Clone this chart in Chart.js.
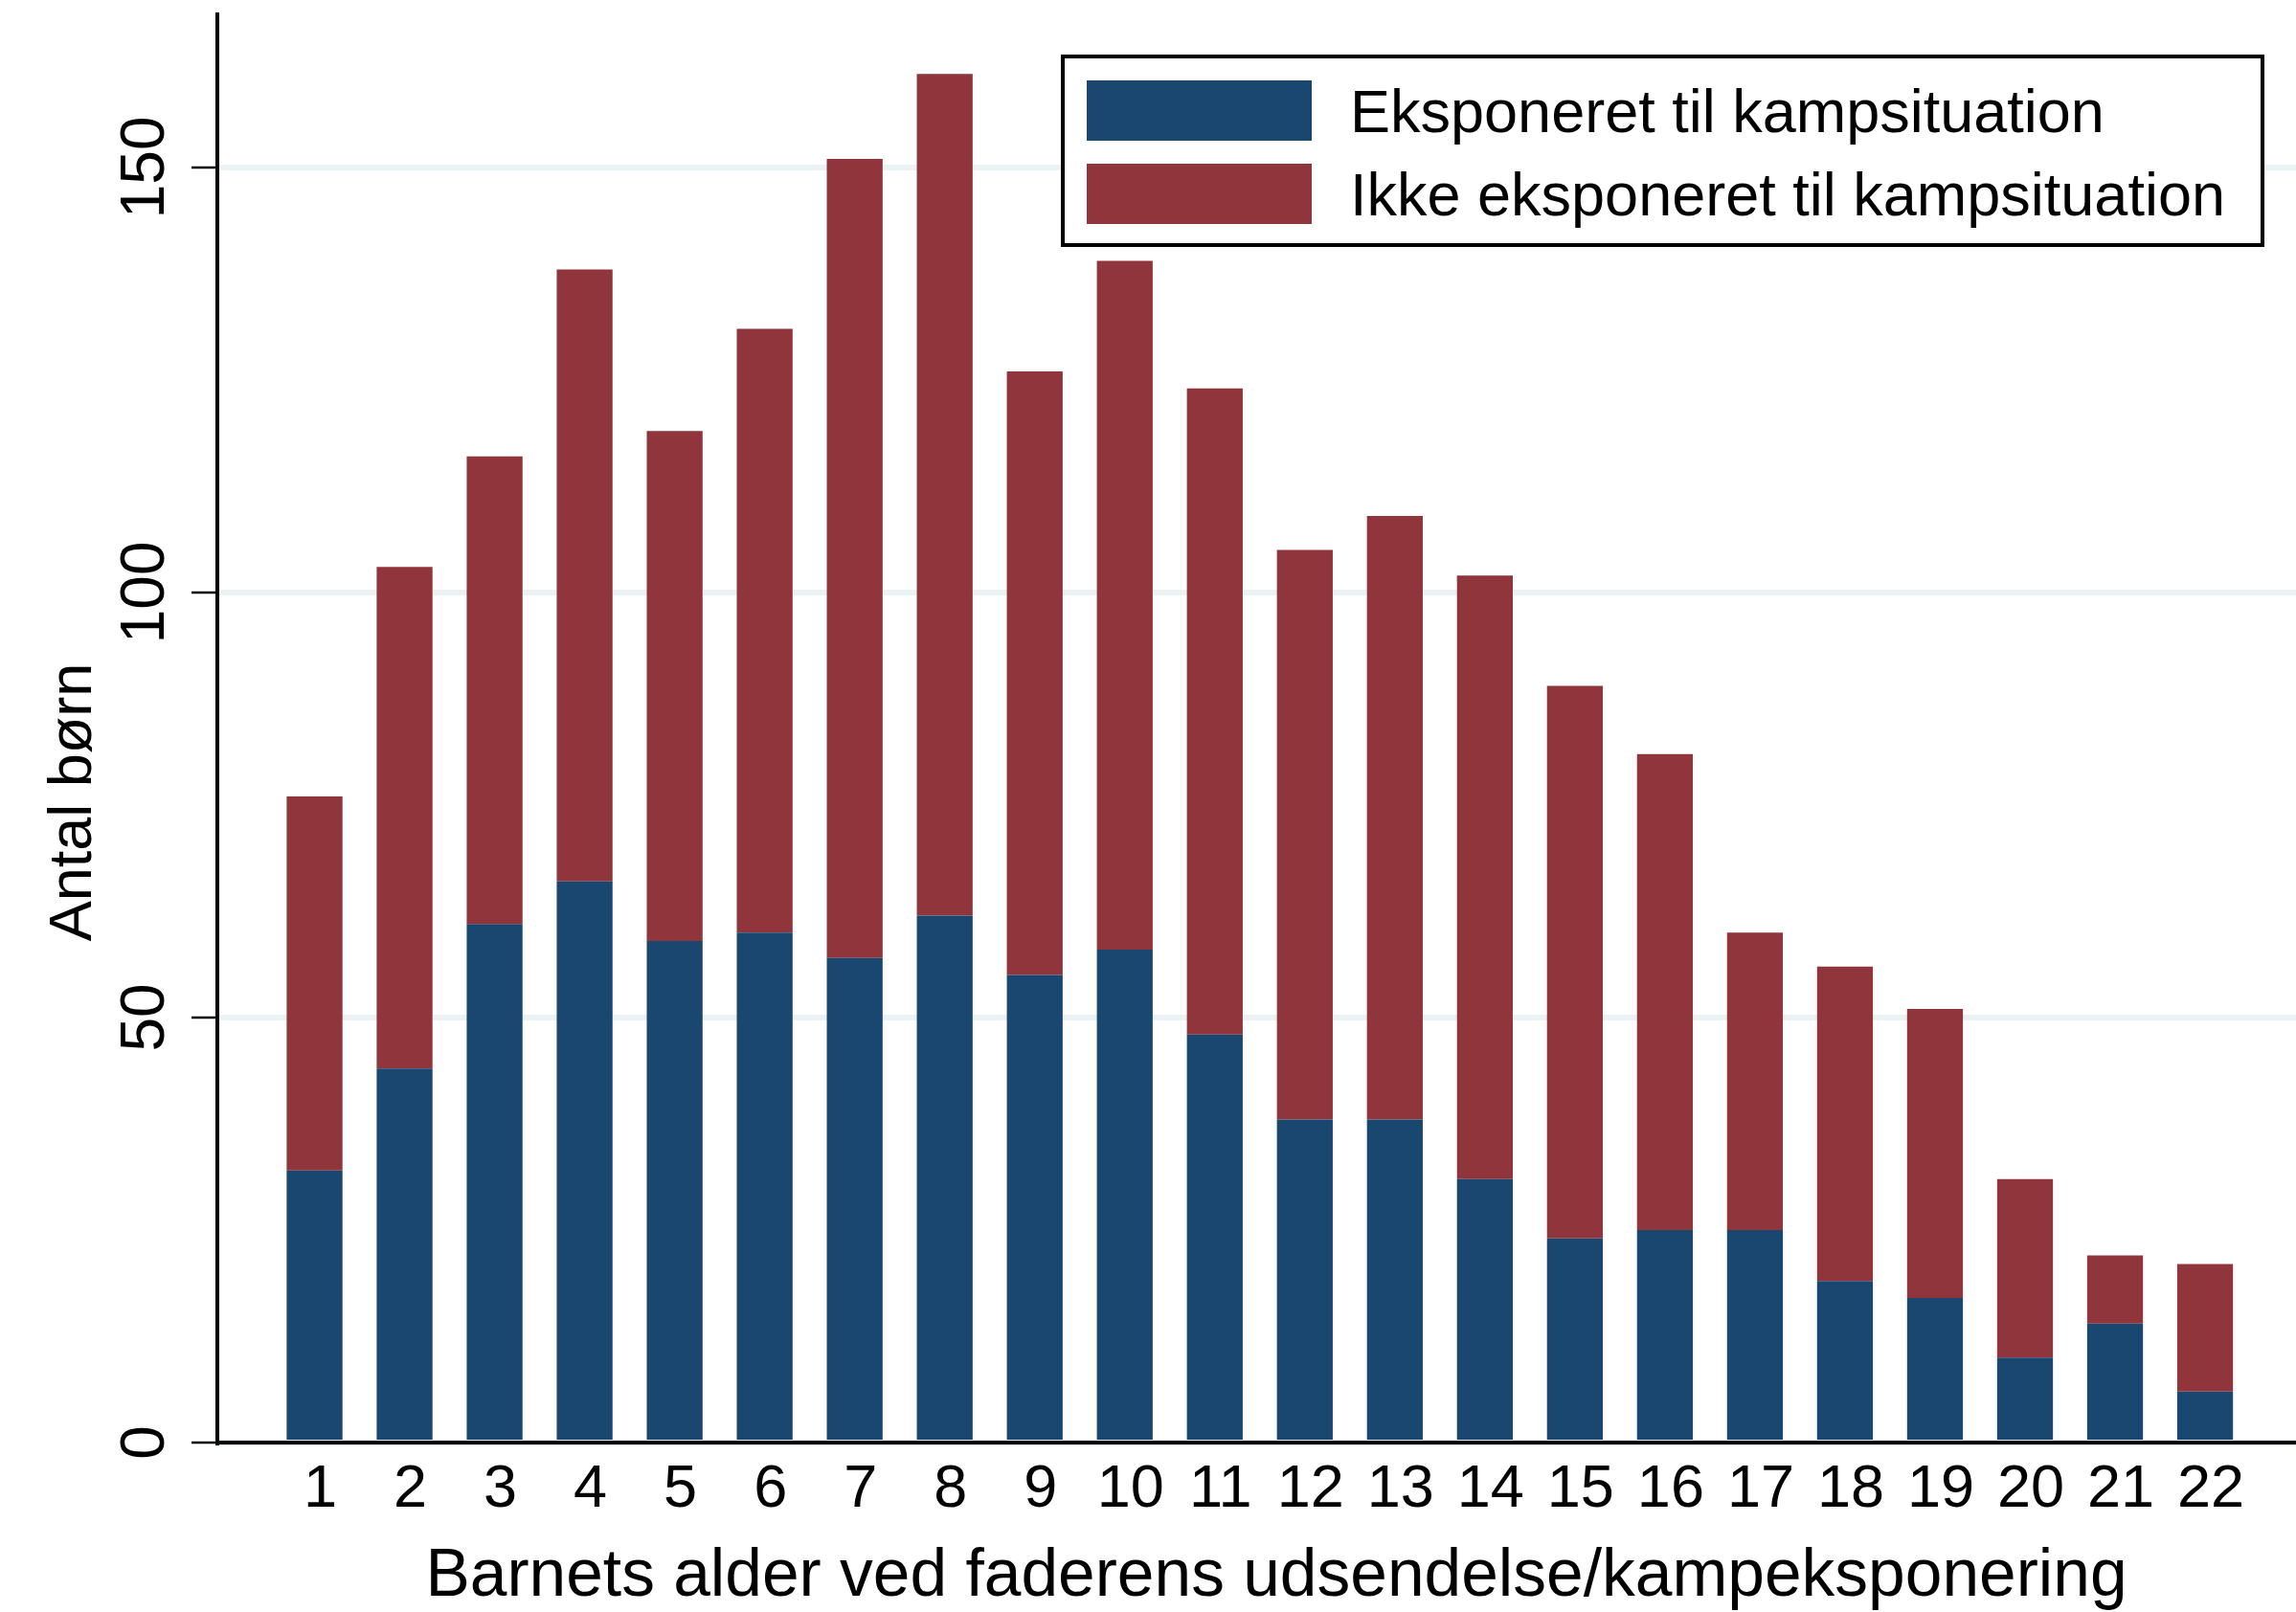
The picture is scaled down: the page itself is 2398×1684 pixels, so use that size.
<!DOCTYPE html>
<html>
<head>
<meta charset="utf-8">
<script src="https://cdn.jsdelivr.net/npm/chart.js@4.4.1/dist/chart.umd.min.js"></script>
<style>
  html, body { margin: 0; padding: 0; background: #fff; }
</style>
</head>
<body>
<canvas id="chart" width="2398" height="1684"></canvas>
<script>
// Barnets alder (år)
const ages = [1, 2, 3, 4, 5, 6, 7, 8, 9, 10, 11, 12, 13, 14, 15, 16, 17, 18, 19, 20, 21, 22]
// antal børn, eksponeret til kampsituation
const exposed = [32, 44, 61, 66, 59, 60, 57, 62, 55, 58, 48, 38, 38, 31, 24, 25, 25, 19, 17, 10, 14, 6]
// antal børn, ikke eksponeret (stakket ovenpå)
const notExposed = [44, 59, 55, 72, 60, 71, 94, 99, 71, 81, 76, 67, 71, 71, 65, 56, 35, 37, 34, 21, 8, 15]
const yTicks = [0, 50, 100, 150]

const seriesLabels = ['Eksponeret til kampsituation', 'Ikke eksponeret til kampsituation']
const seriesColors = ['#1a476f', '#90353b']
const xTitle = 'Barnets alder ved faderens udsendelse/kampeksponering'
const yTitle = 'Antal børn'

const FONT = '"Liberation Sans", Arial, sans-serif'
Chart.defaults.font.family = FONT
Chart.defaults.color = '#000'

// y tick labels, axis titles and the boxed legend, Stata style
const stataText = {
  id: 'stataText',
  afterDraw (chart) {
    const { ctx, scales: { y } } = chart
    ctx.save()
    ctx.fillStyle = '#000'

    // rotated y tick labels
    ctx.font = '64px ' + FONT
    ctx.textAlign = 'center'
    ctx.textBaseline = 'alphabetic'
    y.ticks.forEach(t => {
      ctx.save()
      ctx.translate(171, y.getPixelForValue(t.value))
      ctx.rotate(-Math.PI / 2)
      ctx.fillText(String(t.value), 0, 0)
      ctx.restore()
    })

    // y title
    ctx.font = '63px ' + FONT
    ctx.save()
    ctx.translate(95, 838)
    ctx.rotate(-Math.PI / 2)
    ctx.fillText(yTitle, 0, 0)
    ctx.restore()

    // x title
    ctx.font = '69.5px ' + FONT
    ctx.fillText(xTitle, 1333, 1667)

    // legend
    ctx.fillStyle = '#fff'
    ctx.fillRect(1110, 59, 1253, 197)
    ctx.strokeStyle = '#000'
    ctx.lineWidth = 4
    ctx.strokeRect(1110, 59, 1253, 197)
    ctx.font = '63px ' + FONT
    ctx.textAlign = 'left'
    chart.data.datasets.forEach((ds, i) => {
      const top = 84 + i * 87
      ctx.fillStyle = ds.backgroundColor
      ctx.fillRect(1135, top, 235, 63)
      ctx.fillStyle = '#000'
      ctx.fillText(ds.label, 1410, top + 54)
    })
    ctx.restore()
  }
}

const ctx = document.getElementById('chart').getContext('2d')
new Chart(ctx, {
  type: 'bar',
  data: {
    datasets: [exposed, notExposed].map((vals, i) => ({
      label: seriesLabels[i],
      data: ages.map((a, j) => ({ x: a, y: vals[j] })),
      backgroundColor: seriesColors[i],
      borderWidth: 0,
      barPercentage: 0.62,
      categoryPercentage: 1
    }))
  },
  options: {
    responsive: false,
    animation: false,
    devicePixelRatio: 1,
    layout: { padding: { top: 15, left: 0, right: 0, bottom: 0 } },
    plugins: {
      legend: { display: false },
      tooltip: { enabled: false }
    },
    scales: {
      x: {
        type: 'linear',
        stacked: true,
        offset: false,
        min: -0.08,
        max: 23.01,
        afterBuildTicks: s => { s.ticks = ages.map(v => ({ value: v })) },
        afterFit: s => { s.height = 177 },
        grid: { display: false, drawTicks: false },
        border: { color: '#000', width: 4 },
        ticks: {
          font: { size: 63 },
          color: '#000',
          padding: 12,
          labelOffset: 6,
          maxRotation: 0,
          autoSkip: false,
          callback: v => String(v)
        }
      },
      y: {
        stacked: true,
        min: 0,
        max: 168,
        afterBuildTicks: s => { s.ticks = yTicks.map(v => ({ value: v })) },
        afterFit: s => { s.width = 227 },
        grid: {
          color: '#eaf2f3',
          lineWidth: 6,
          drawTicks: true,
          tickLength: 27,
          tickColor: '#000',
          tickWidth: 2.5
        },
        border: { color: '#000', width: 4 },
        ticks: { display: false }
      }
    }
  },
  plugins: [stataText]
})
</script>
</body>
</html>
